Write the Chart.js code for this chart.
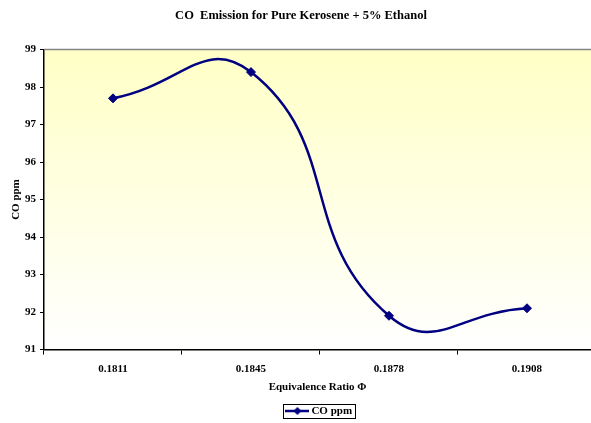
<!DOCTYPE html>
<html>
<head>
<meta charset="utf-8">
<title>CO Emission for Pure Kerosene + 5% Ethanol</title>
<script src="https://cdn.jsdelivr.net/npm/chart.js@4/dist/chart.umd.min.js"></script>
<style>
  html, body { margin: 0; padding: 0; background: #ffffff; overflow: hidden; }
  canvas { display: block; }
</style>
</head>
<body>
<canvas id="chart" width="591" height="423"></canvas>
<script>
// ---- data ----
const chartTitle = 'CO  Emission for Pure Kerosene + 5% Ethanol';
const phiLabels = ['0.1811', '0.1845', '0.1878', '0.1908'];
const coPpm = [97.7, 98.4, 91.9, 92.1];
const yMin = 91;
const yMax = 99;
const seriesName = 'CO ppm';
const xTitle = 'Equivalence Ratio Φ';
const yTitle = 'CO ppm';

// ---- styling ----
const SERIF = '"Liberation Serif", "Times New Roman", Times, serif';
const NAVY = '#000080';
const boldFont = (size) => ({ family: SERIF, size: size, weight: 'bold', lineHeight: 1.2 });

// legend marker: a short navy line with a diamond in the middle
const legendMarker = (() => {
  const c = document.createElement('canvas');
  c.width = 24; c.height = 10;
  const g = c.getContext('2d');
  g.strokeStyle = NAVY; g.lineWidth = 2.5;
  g.beginPath(); g.moveTo(0, 5); g.lineTo(24, 5); g.stroke();
  g.fillStyle = NAVY;
  g.beginPath(); g.moveTo(12, 1); g.lineTo(16, 5); g.lineTo(12, 9); g.lineTo(8, 5); g.closePath(); g.fill();
  return c;
})();
const markerSlot = 17;   // legend box width reserved for the marker
const legendPad = 4;

// plot background: pale yellow fading to white, white page behind
const backdrop = {
  id: 'backdrop',
  beforeDraw(chart) {
    const { ctx, chartArea: a, width, height } = chart;
    ctx.save();
    ctx.fillStyle = '#ffffff';
    ctx.fillRect(0, 0, width, height);
    const grad = ctx.createLinearGradient(0, a.top, 0, a.bottom);
    grad.addColorStop(0, '#FFFFC6');
    grad.addColorStop(1, '#FFFFFF');
    ctx.fillStyle = grad;
    ctx.fillRect(a.left, a.top, a.right - a.left, a.bottom - a.top);
    ctx.restore();
  }
};

// small placement adjustments for the title and legend blocks
const placement = {
  id: 'placement',
  afterLayout(chart) {
    if (chart.titleBlock) chart.titleBlock.left += 11;
    if (chart.legend) {
      chart.legend.top += 3.5; chart.legend.bottom += 3.5;
      chart.legend.left += 3; chart.legend.right += 3;
    }
  }
};

// grey top edge of the plot and the framed legend entry
const frame = {
  id: 'frame',
  afterDraw(chart) {
    const { ctx, chartArea: a } = chart;
    ctx.save();
    ctx.strokeStyle = '#858585';
    ctx.lineWidth = 1.5;
    ctx.beginPath();
    ctx.moveTo(a.left, a.top);
    ctx.lineTo(a.right, a.top);
    ctx.stroke();

    const lg = chart.legend;
    if (lg) {
      ctx.font = 'bold 11px ' + SERIF;
      const textW = ctx.measureText(seriesName).width;
      const itemW = markerSlot + 5.5 + textW;
      const x0 = (lg.left + legendPad + lg.right - itemW - legendPad) / 2;
      const y0 = lg.top + legendPad;
      ctx.strokeStyle = '#000000';
      ctx.lineWidth = 1;
      const left = Math.round(x0 - 6) + 0.5;
      const right = Math.round(x0 + itemW + 3) + 0.5;
      const top = Math.round(y0 - 2) + 0.5;
      const bottom = Math.round(y0 + 12) + 0.5;
      ctx.strokeRect(left, top, right - left, bottom - top);
    }
    ctx.restore();
  }
};

new Chart(document.getElementById('chart'), {
  type: 'line',
  data: {
    datasets: [{
      label: seriesName,
      data: coPpm.map((v, i) => ({ x: i, y: v })),
      borderColor: NAVY,
      backgroundColor: NAVY,
      borderWidth: 2.5,
      tension: 0.5,
      fill: false,
      pointStyle: 'rectRot',
      pointRadius: 4.5,
      pointBackgroundColor: NAVY,
      pointBorderColor: NAVY,
      pointBorderWidth: 1,
      clip: false
    }]
  },
  options: {
    responsive: false,
    animation: false,
    devicePixelRatio: 1,
    layout: { padding: 0, autoPadding: false },
    elements: { line: { capBezierPoints: false } },
    plugins: {
      title: {
        display: true,
        text: chartTitle,
        color: '#000000',
        font: boldFont(12.5),
        padding: { top: 8.6, bottom: 26 }
      },
      legend: {
        display: true,
        position: 'bottom',
        fullSize: false,
        labels: {
          color: '#000000',
          font: boldFont(11),
          usePointStyle: true,
          pointStyleWidth: markerSlot,
          padding: legendPad,
          generateLabels: () => [{
            text: seriesName,
            pointStyle: legendMarker,
            fillStyle: NAVY,
            strokeStyle: NAVY,
            lineWidth: 0,
            hidden: false,
            datasetIndex: 0
          }]
        }
      },
      tooltip: { enabled: false }
    },
    scales: {
      x: {
        type: 'linear',
        bounds: 'data',
        min: -0.5,
        max: 3.4638,
        afterBuildTicks: (s) => { s.ticks = phiLabels.map((_, i) => ({ value: i })); },
        afterFit: (s) => {
          s.height = 48.5;
          s.paddingLeft = 0; s.paddingRight = 0;
        },
        ticks: {
          color: '#000000',
          font: boldFont(11),
          padding: 8,
          maxRotation: 0,
          autoSkip: false,
          callback: (v) => phiLabels[v]
        },
        grid: {
          offset: true,
          drawOnChartArea: false,
          drawTicks: true,
          tickLength: 5,
          tickWidth: 1,
          tickColor: (c) => (c.index >= phiLabels.length ? 'rgba(0,0,0,0)' : '#000000')
        },
        border: { display: true, color: '#000000', width: 1.5 },
        title: {
          display: true,
          text: xTitle,
          color: '#000000',
          font: boldFont(11),
          padding: { top: 0, bottom: 4 }
        }
      },
      y: {
        type: 'linear',
        min: yMin,
        max: yMax,
        afterFit: (s) => { s.width = 44; },
        ticks: {
          stepSize: 1,
          color: '#000000',
          font: boldFont(11),
          padding: 4
        },
        grid: {
          drawOnChartArea: false,
          drawTicks: true,
          tickLength: 4,
          tickColor: '#000000'
        },
        border: { display: true, color: '#000000', width: 1.5 },
        title: {
          display: true,
          text: yTitle,
          color: '#000000',
          font: boldFont(11),
          padding: { top: 10, bottom: 0 }
        }
      }
    }
  },
  plugins: [backdrop, placement, frame]
});
</script>
</body>
</html>
